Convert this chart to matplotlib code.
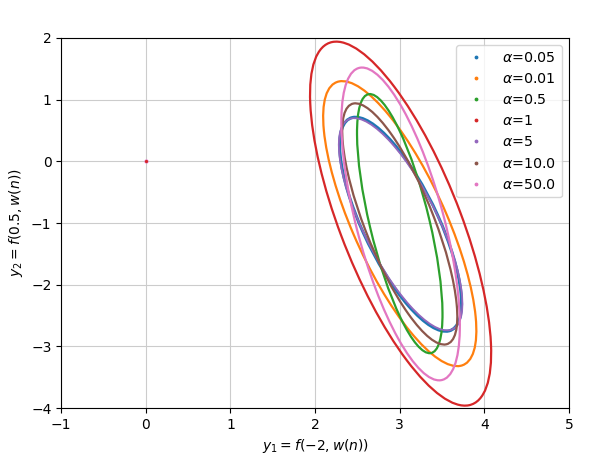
import numpy as np
import matplotlib
matplotlib.use("Agg")
import matplotlib.pyplot as plt
from matplotlib.patches import Ellipse
from matplotlib.lines import Line2D

# ellipses: centre, half-extent in x / y, and x-y tilt (correlation)
labels = ["0.05", "0.01", "0.5", "1", "5", "10.0", "50.0"]
colors = ["tab:blue", "tab:orange", "tab:green", "tab:red", "tab:purple", "tab:brown", "tab:pink"]
cx = [3.01, 3.00, 3.00, 3.01, 3.01, 3.00, 3.01]
cy = [-1.02, -1.01, -1.01, -1.01, -1.02, -1.015, -1.015]
half_x = [0.72, 0.905, 0.505, 1.07, 0.73, 0.68, 0.70]
half_y = [1.735, 2.31, 2.10, 2.95, 1.72, 1.955, 2.535]
tilt = [-0.74, -0.75, -0.70, -0.71, -0.75, -0.77, -0.65]
widths = [2.2, 1.6, 1.6, 1.6, 1.3, 1.6, 1.6]

origin_x = [0.0]
origin_y = [0.0]

fig, ax = plt.subplots(figsize=(6.06, 4.57), dpi=100)
fig.subplots_adjust(left=0.101, right=0.939, top=0.917, bottom=0.107)

handles = []
for i in range(len(labels)):
    a, b, r = half_x[i], half_y[i], tilt[i]
    cov = np.array([[a * a, r * a * b], [r * a * b, b * b]])
    vals, vecs = np.linalg.eigh(cov)
    ang = np.degrees(np.arctan2(vecs[1, 1], vecs[0, 1]))
    e = Ellipse((cx[i], cy[i]), 2 * np.sqrt(vals[1]), 2 * np.sqrt(vals[0]), angle=ang,
                fill=False, edgecolor=colors[i], lw=widths[i], zorder=3)
    ax.add_patch(e)
    handles.append(Line2D([], [], marker='.', linestyle='', color=colors[i],
                          markersize=3.5, label=r'$\alpha$=' + labels[i]))

ax.scatter(origin_x, origin_y, s=4, color="tab:pink", zorder=3)
ax.scatter(origin_x, origin_y, s=1.5, color="tab:red", zorder=4)

ax.set_xlim(-1, 5)
ax.set_ylim(-4, 2)
ax.grid(True, color='#cccccc', lw=0.8)
ax.set_axisbelow(True)
ax.set_xlabel(r'$y_1 = f(-2, w(n))$')
ax.set_ylabel(r'$y_2 = f(0.5, w(n))$')
ax.legend(handles=handles, loc='upper right', fontsize=10.3)

fig.savefig("out.png", dpi=100)
